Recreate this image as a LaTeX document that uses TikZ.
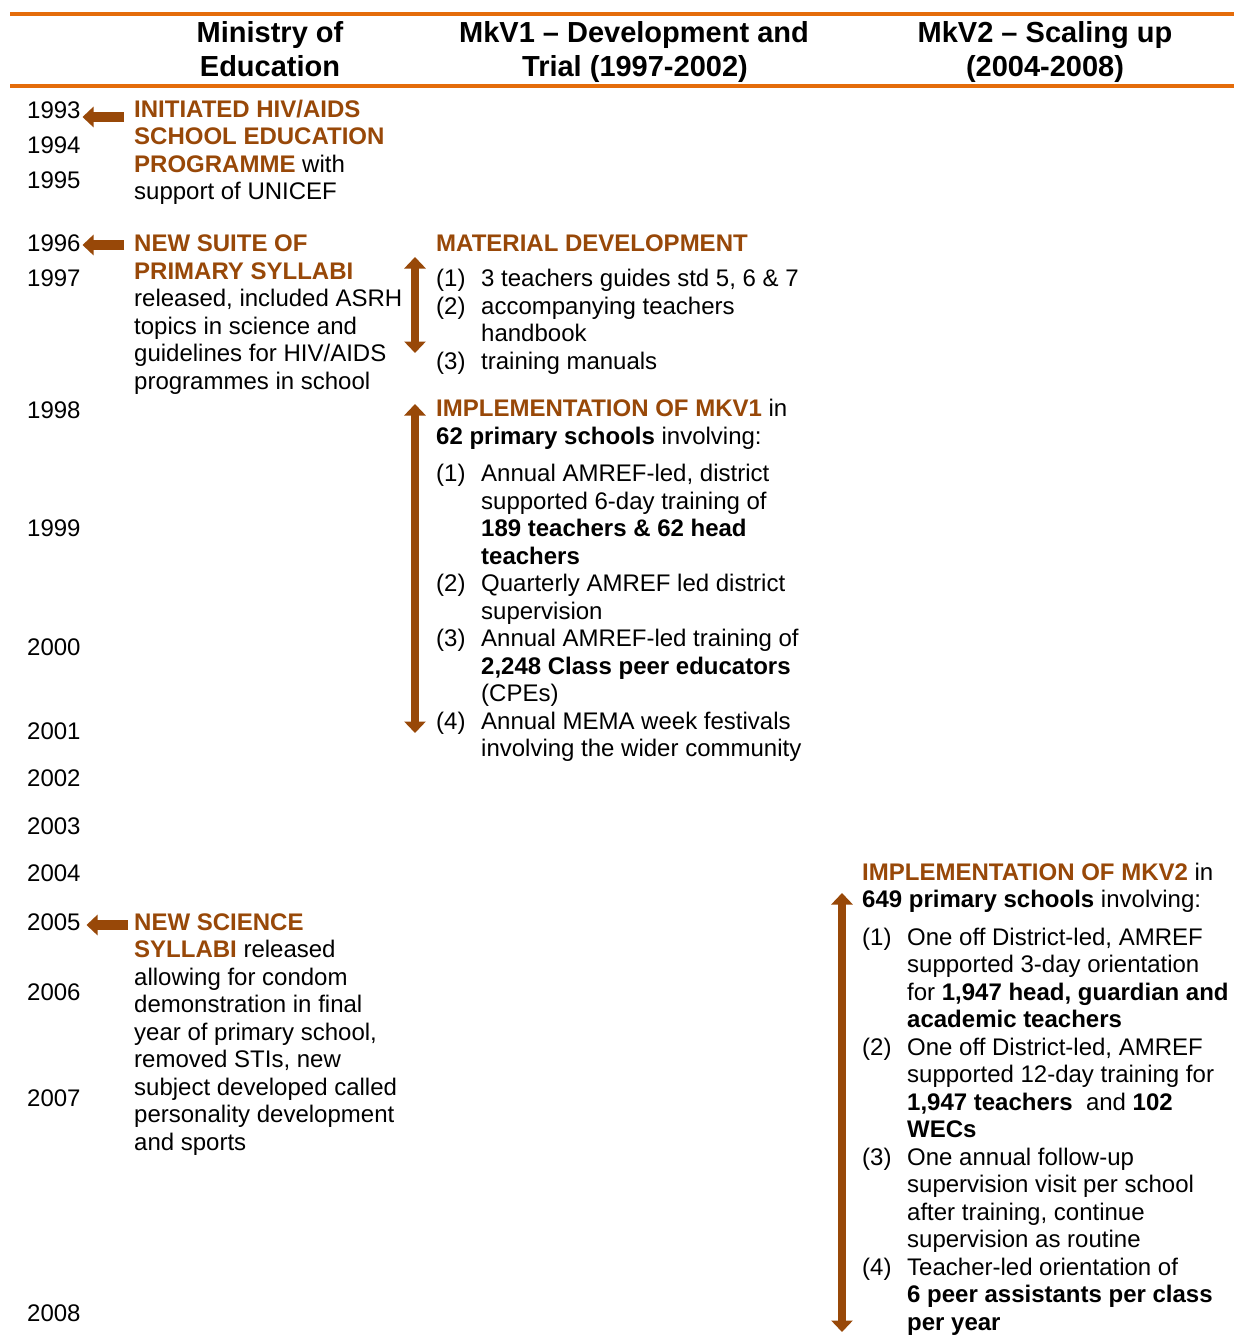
\documentclass[tikz,border=0pt]{standalone}
\usepackage{fontspec}
\setmainfont{Liberation Sans}
\usetikzlibrary{arrows.meta}
\definecolor{brn}{RGB}{152,72,8}
\definecolor{org}{RGB}{228,108,10}
\newcommand\bodyfs{\fontsize{24}{27.5}\selectfont}
\newcommand\headfs{\fontsize{29}{34}\selectfont\bfseries}
\newcommand\hi[1]{\textcolor{brn}{\textbf{#1}}}
\begin{document}
\begin{tikzpicture}[x=1pt,y=-1pt,
  txt/.style={anchor=base west,inner sep=0pt,font=\bodyfs},
  hd/.style={anchor=base,inner sep=0pt,font=\headfs},
  rule/.style={draw=org,line width=4pt},
  harr/.style={draw=brn,line width=10pt,-{Triangle[width=20pt,length=11pt]}},
  varr/.style={draw=brn,line width=8.5pt,{Triangle[width=21pt,length=11.5pt]}-{Triangle[width=21pt,length=11.5pt]}}]
\useasboundingbox (0,0) rectangle (1234,1338);
\fill[white] (0,0) rectangle (1234,1338);
% header rules
\coordinate (r1a) at (10,14); \coordinate (r1b) at (1234,14);
\coordinate (r2a) at (10,86); \coordinate (r2b) at (1234,86);
\draw[rule] (r1a) -- (r1b);
\draw[rule] (r2a) -- (r2b);
% headers
\node[hd] (h1a) at (270,43) {Ministry of};
\node[hd] (h1b) at (270,77) {Education};
\node[hd] (h2a) at (634,43) {MkV1 – Development and};
\node[hd] (h2b) at (635,77) {Trial (1997-2002)};
\node[hd] (h3a) at (1045,43) {MkV2 – Scaling up};
\node[hd] (h3b) at (1045,77) {(2004-2008)};
% years
\node[txt] (y1993) at (27,118) {1993};
\node[txt] (y1994) at (27,153.5) {1994};
\node[txt] (y1995) at (27,188.5) {1995};
\node[txt] (y1996) at (27,251.7) {1996};
\node[txt] (y1997) at (27,286.7) {1997};
\node[txt] (y1998) at (27,418) {1998};
\node[txt] (y1999) at (27,536) {1999};
\node[txt] (y2000) at (27,655) {2000};
\node[txt] (y2001) at (27,739) {2001};
\node[txt] (y2002) at (27,786) {2002};
\node[txt] (y2003) at (27,834) {2003};
\node[txt] (y2004) at (27,881) {2004};
\node[txt] (y2005) at (27,930) {2005};
\node[txt] (y2006) at (27,1000) {2006};
\node[txt] (y2007) at (27,1106) {2007};
\node[txt] (y2008) at (27,1321) {2008};
% column 1
\node[txt] (a1) at (134,117) {\hi{INITIATED HIV/AIDS}};
\node[txt] (a2) at (134,144.5) {\hi{SCHOOL EDUCATION}};
\node[txt] (a3) at (134,172) {\hi{PROGRAMME} with};
\node[txt] (a4) at (134,199.5) {support of UNICEF};
\node[txt] (b1) at (134,251.7) {\hi{NEW SUITE OF}};
\node[txt] (b2) at (134,279.2) {\hi{PRIMARY SYLLABI}};
\node[txt] (b3) at (134,306.7) {released, included ASRH};
\node[txt] (b4) at (134,334.2) {topics in science and};
\node[txt] (b5) at (134,361.7) {guidelines for HIV/AIDS};
\node[txt] (b6) at (134,389.2) {programmes in school};
\node[txt] (c1) at (134,930) {\hi{NEW SCIENCE}};
\node[txt] (c2) at (134,957.5) {\hi{SYLLABI} released};
\node[txt] (c3) at (134,985) {allowing for condom};
\node[txt] (c4) at (134,1012.5) {demonstration in final};
\node[txt] (c5) at (134,1040) {year of primary school,};
\node[txt] (c6) at (134,1067.5) {removed STIs, new};
\node[txt] (c7) at (134,1095) {subject developed called};
\node[txt] (c8) at (134,1122.5) {personality development};
\node[txt] (c9) at (134,1150) {and sports};
% column 2 - material development
\node[txt] (m0) at (436,251.7) {\hi{MATERIAL DEVELOPMENT}};
\node[txt] (m1n) at (436,286.7) {(1)};
\node[txt] (m1) at (481,286.7) {3 teachers guides std 5, 6 \& 7};
\node[txt] (m2n) at (436,314.2) {(2)};
\node[txt] (m2) at (481,314.2) {accompanying teachers};
\node[txt] (m3) at (481,341.7) {handbook};
\node[txt] (m4n) at (436,369.2) {(3)};
\node[txt] (m4) at (481,369.2) {training manuals};
% column 2 - implementation
\node[txt] (i0) at (436,416.7) {\hi{IMPLEMENTATION OF MKV1} in};
\node[txt] (i1) at (436,444.2) {\textbf{62 primary schools} involving:};
\node[txt] (i2n) at (436,481.7) {(1)};
\node[txt] (i2) at (481,481.7) {Annual AMREF-led, district};
\node[txt] (i3) at (481,509.2) {supported 6-day training of};
\node[txt] (i4) at (481,536.7) {\textbf{189 teachers \& 62 head}};
\node[txt] (i5) at (481,564.2) {\textbf{teachers}};
\node[txt] (i6n) at (436,591.7) {(2)};
\node[txt] (i6) at (481,591.7) {Quarterly AMREF led district};
\node[txt] (i7) at (481,619.2) {supervision};
\node[txt] (i8n) at (436,646.7) {(3)};
\node[txt] (i8) at (481,646.7) {Annual AMREF-led training of};
\node[txt] (i9) at (481,674.2) {\textbf{2,248 Class peer educators}};
\node[txt] (i10) at (481,701.7) {(CPEs)};
\node[txt] (i11n) at (436,729.2) {(4)};
\node[txt] (i11) at (481,729.2) {Annual MEMA week festivals};
\node[txt] (i12) at (481,756.7) {involving the wider community};
% column 3
\node[txt] (k0) at (862,880) {\hi{IMPLEMENTATION OF MKV2} in};
\node[txt] (k1) at (862,907.5) {\textbf{649 primary schools} involving:};
\node[txt] (k2n) at (862,945) {(1)};
\node[txt] (k2) at (907,945) {One off District-led, AMREF};
\node[txt] (k3) at (907,972.5) {supported 3-day orientation};
\node[txt] (k4) at (907,1000) {for \textbf{1,947 head, guardian and}};
\node[txt] (k5) at (907,1027.5) {\textbf{academic teachers}};
\node[txt] (k6n) at (862,1055) {(2)};
\node[txt] (k6) at (907,1055) {One off District-led, AMREF};
\node[txt] (k7) at (907,1082.5) {supported 12-day training for};
\node[txt] (k8) at (907,1110) {\textbf{1,947 teachers}\ \ and \textbf{102}};
\node[txt] (k9) at (907,1137.5) {\textbf{WECs}};
\node[txt] (k10n) at (862,1165) {(3)};
\node[txt] (k10) at (907,1165) {One annual follow-up};
\node[txt] (k11) at (907,1192.5) {supervision visit per school};
\node[txt] (k12) at (907,1220) {after training, continue};
\node[txt] (k13) at (907,1247.5) {supervision as routine};
\node[txt] (k14n) at (862,1275) {(4)};
\node[txt] (k14) at (907,1275) {Teacher-led orientation of};
\node[txt] (k15) at (907,1302.5) {\textbf{6 peer assistants per class}};
\node[txt] (k16) at (907,1330) {\textbf{per year}};
% arrows
\coordinate (p1s) at (124,117); \coordinate (p1e) at (82.5,117);
\coordinate (p2s) at (124,245); \coordinate (p2e) at (82.5,245);
\coordinate (p3s) at (128,925); \coordinate (p3e) at (86.5,925);
\draw[harr] (p1s) -- (p1e);
\draw[harr] (p2s) -- (p2e);
\draw[harr] (p3s) -- (p3e);
\coordinate (v1a) at (415,257); \coordinate (v1b) at (415,353);
\coordinate (v2a) at (415,404); \coordinate (v2b) at (415,733);
\coordinate (v3a) at (842,893); \coordinate (v3b) at (842,1332);
\draw[varr] (v1a) -- (v1b);
\draw[varr] (v2a) -- (v2b);
\draw[varr] (v3a) -- (v3b);
\end{tikzpicture}
\end{document}
